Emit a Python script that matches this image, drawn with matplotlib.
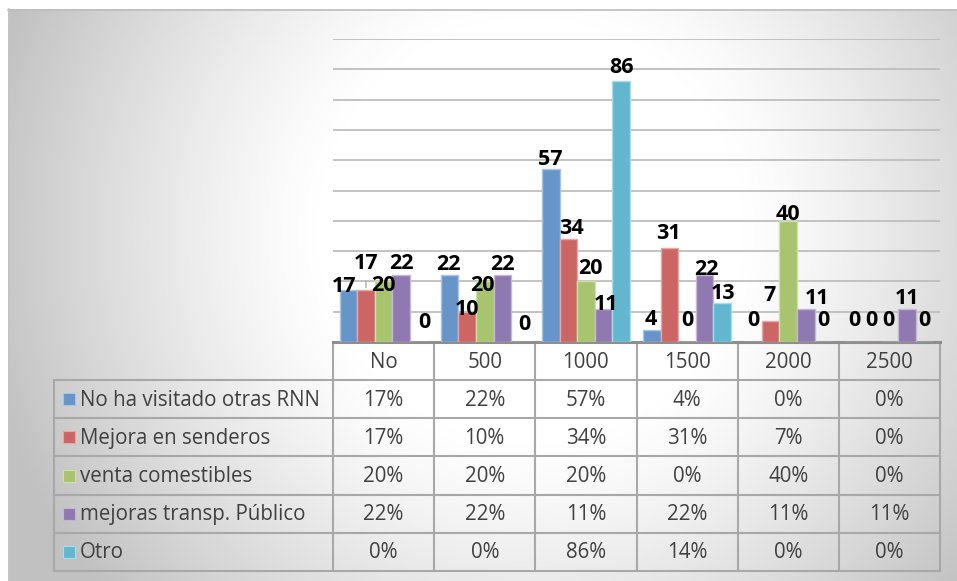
import numpy as np
import matplotlib
matplotlib.use("Agg")
import matplotlib.pyplot as plt
from matplotlib.patches import Rectangle

plt.rcParams['font.family'] = ['Open Sans', 'DejaVu Sans']

# ---- data -------------------------------------------------------------
categories = ["No", "500", "1000", "1500", "2000", "2500"]
series_names = ["No ha visitado otras RNN", "Mejora en senderos",
                "venta comestibles", "mejoras transp. Público", "Otro"]

no_visitado = [17, 22, 57, 4, 0, 0]
senderos = [17, 10, 34, 31, 7, 0]
comestibles = [20, 20, 20, 0, 40, 0]
transporte = [22, 22, 11, 22, 11, 11]
otro = [0, 0, 86, 13, 0, 0]

# percentages printed in the data table under the chart
table_no_visitado = [17, 22, 57, 4, 0, 0]
table_senderos = [17, 10, 34, 31, 7, 0]
table_comestibles = [20, 20, 20, 0, 40, 0]
table_transporte = [22, 22, 11, 22, 11, 11]
table_otro = [0, 0, 86, 14, 0, 0]

series = [no_visitado, senderos, comestibles, transporte, otro]
table_rows = [table_no_visitado, table_senderos, table_comestibles,
              table_transporte, table_otro]

colors = ["#6795C9", "#CB6664", "#A8C46E", "#9079B0", "#62B7CF"]
edge_colors = ["#A9C3E3", "#E3A9A8", "#CFE0AE", "#C3B6D6", "#A9DCE9"]

# hand-placed data-label nudges (dx, dy) in pixels from the bar top
label_nudge = [
    [(-4, 4), (-1, 11), (0, 10), (-1, 10), (0, 22), (0, 22)],
    [(0, 27), (0, 2), (3, 10), (-1, 15), (-1, 25), (0, 22)],
    [(0, -4), (-2, -4), (5, 13), (0, 22), (0, 6), (-1, 22)],
    [(0, 12), (0, 11), (3, 4), (2, 6), (11, 10), (0, 10)],
    [(6, 19), (4, 17), (0, 14), (1, 9), (0, 22), (0, 22)],
]

# ---- figure geometry (pixels) -----------------------------------------
W, H = 957, 581
DPI = 100
fig = plt.figure(figsize=(W / DPI, H / DPI), dpi=DPI)

plot_left, plot_right = 333, 940
plot_bottom, plot_top = 342, 39      # baseline and the 100 gridline
table_left = 54
header_bottom = 380
row_h = 38.2

# background canvas in pixel coordinates
bg = fig.add_axes([0, 0, 1, 1])
bg.set_xlim(0, W)
bg.set_ylim(H, 0)
bg.axis("off")

yy, xx = np.mgrid[0:H, 0:W]
r = np.sqrt(((xx - 530) / 560.0) ** 2 + ((yy - 230) / 560.0) ** 2)
shade = 255 - 62 * np.clip((r - 0.38) / 0.62, 0, 1) ** 1.2
img = np.dstack([shade, shade, shade]) / 255.0
img[:9, :, :] = 1.0
img[:, :8, :] = 1.0
bg.imshow(img, extent=(0, W, H, 0), aspect="auto", zorder=0,
          interpolation="bilinear")
bg.plot([8, W], [9.5, 9.5], color="#BDBDBD", lw=1.2, zorder=1)
bg.plot([8.5, 8.5], [9, H], color="#C4C4C4", lw=1.2, zorder=1)

# ---- data table ------------------------------------------------------
grid_c = "#A8A8A8"
ncat = len(categories)
col_w = (plot_right - plot_left) / ncat
col_x = [plot_left + i * col_w for i in range(ncat + 1)]
row_y = [header_bottom + i * row_h for i in range(len(series) + 1)]
table_bottom = row_y[-1]

# horizontal rules
for y in row_y:
    bg.plot([table_left, plot_right], [y, y], color=grid_c, lw=1.5, zorder=2)
# vertical rules
for x in col_x:
    bg.plot([x, x], [plot_bottom, table_bottom], color=grid_c, lw=1.5, zorder=2)
bg.plot([table_left, table_left], [header_bottom, table_bottom],
        color=grid_c, lw=1.5, zorder=2)
# axis baseline
bg.plot([plot_left, plot_right], [plot_bottom, plot_bottom],
        color="#8E8E8E", lw=2.2, zorder=3)

text_c = "#404040"
fs_table = 14.8
for i, cat in enumerate(categories):
    cx = (col_x[i] + col_x[i + 1]) / 2
    bg.text(cx, (plot_bottom + header_bottom) / 2 + 1, cat, ha="center",
            va="center", fontsize=fs_table, color=text_c, zorder=4)

for j, (name, vals) in enumerate(zip(series_names, table_rows)):
    cy = (row_y[j] + row_y[j + 1]) / 2 + 1
    bg.add_patch(Rectangle((63, cy - 7), 12, 12, facecolor=colors[j],
                           edgecolor=edge_colors[j], lw=0.8, zorder=4))
    bg.text(80, cy, name, ha="left", va="center", fontsize=fs_table,
            color=text_c, zorder=4)
    for i, v in enumerate(vals):
        cx = (col_x[i] + col_x[i + 1]) / 2
        bg.text(cx, cy, f"{v}%", ha="center", va="center",
                fontsize=fs_table, color=text_c, zorder=4)

# ---- clustered bars --------------------------------------------------
ax = fig.add_axes([plot_left / W, 1 - plot_bottom / H,
                   (plot_right - plot_left) / W,
                   (plot_bottom - plot_top) / H])
ax.patch.set_alpha(0)
ax.set_xlim(-0.5, ncat - 0.5)
ax.set_ylim(0, 100)
for s in ax.spines.values():
    s.set_visible(False)
ax.set_xticks([])
ax.set_yticks([])
for g in range(10, 101, 10):
    ax.axhline(g, color="#BEBEBE", lw=1.3, zorder=1)

x = np.arange(ncat)
bw = 0.174
px_to_pt = 72.0 / DPI
for j, vals in enumerate(series):
    pos = x + (j - 2) * bw
    ax.bar(pos, vals, width=bw, color=colors[j], edgecolor=edge_colors[j],
           linewidth=1.0, zorder=2)
    for i, v in enumerate(vals):
        dx, dy = label_nudge[j][i]
        ax.annotate(str(v), (pos[i], v), xytext=(dx * px_to_pt, dy * px_to_pt),
                    textcoords="offset points", ha="center", va="center",
                    fontsize=15.5, fontweight="bold", color="black", zorder=5)

# leader line for the raised label in the first group
ax.annotate("", (x[0] - bw, senderos[0]), xytext=(0, 12 * px_to_pt),
            textcoords="offset points",
            arrowprops=dict(arrowstyle="-", color="#999999", lw=0.8))

fig.savefig("out.png", dpi=DPI)
